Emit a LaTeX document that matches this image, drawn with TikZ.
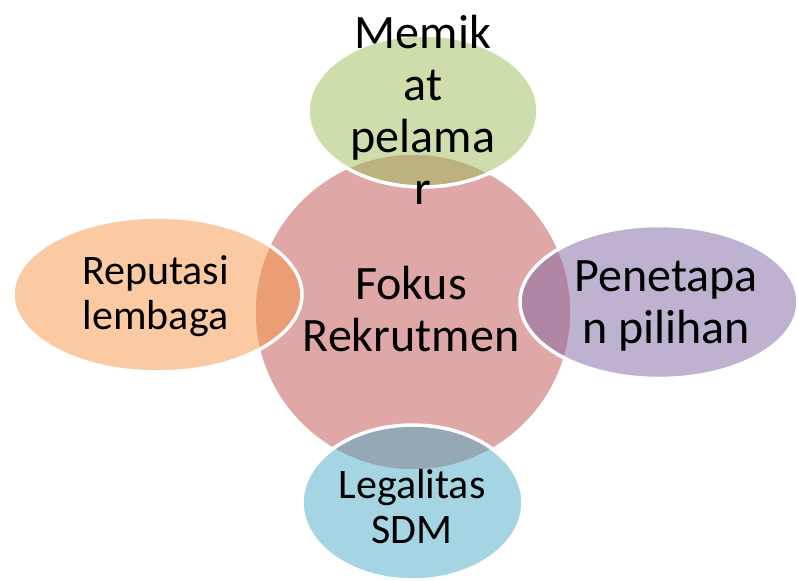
\documentclass[tikz,border=0pt]{standalone}
\usepackage{fontspec}
\setmainfont{Carlito}
\usetikzlibrary{shapes.geometric}
\definecolor{accred}{HTML}{C0504D}
\definecolor{accgreen}{HTML}{9BBB59}
\definecolor{accorange}{HTML}{F79646}
\definecolor{accpurple}{HTML}{8064A2}
\definecolor{accaqua}{HTML}{4BACC6}
\tikzset{
  blob/.style={ellipse, draw=white, line width=3.5pt, fill opacity=0.5, inner sep=0pt},
  bigtext/.style={align=center, inner sep=0pt, font=\fontsize{48}{52}\selectfont},
  smalltext/.style={align=center, inner sep=0pt, font=\fontsize{42}{45.5}\selectfont}
}

\begin{document}
\begin{tikzpicture}[x=1pt, y=-1pt]
    \useasboundingbox (0,0) rectangle (798,581);
    % shapes
    \node[circle, draw=white, line width=3.5pt, fill=accred, fill opacity=0.5, inner sep=0pt, minimum size=318] (fokus) at (413,312) {};
    \node[blob, fill=accgreen, minimum width=230, minimum height=152] (memikat) at (423,111) {};
    \node[blob, fill=accorange, minimum width=289, minimum height=155] (reputasi) at (157.5,294.5) {};
    \node[blob, fill=accpurple, minimum width=278, minimum height=153] (penetapan) at (659,302) {};
    \node[blob, fill=accaqua, minimum width=221, minimum height=155] (legalitas) at (412.5,502.5) {};
    % texts
    \node[bigtext] (fokustext) at (411,309) {Fokus\\Rekrutmen};
    \node[bigtext] (memikattext) at (423,110) {Memik\\at\\pelama\\r};
    \node[smalltext] (reputasitext) at (155.5,296) {Reputasi\\lembaga};
    \node[bigtext] (penetapantext) at (666,305.5) {Penetapa\\n pilihan};
    \node[smalltext] (legalitastext) at (412,506.5) {Legalitas\\SDM};
\end{tikzpicture}
\end{document}
